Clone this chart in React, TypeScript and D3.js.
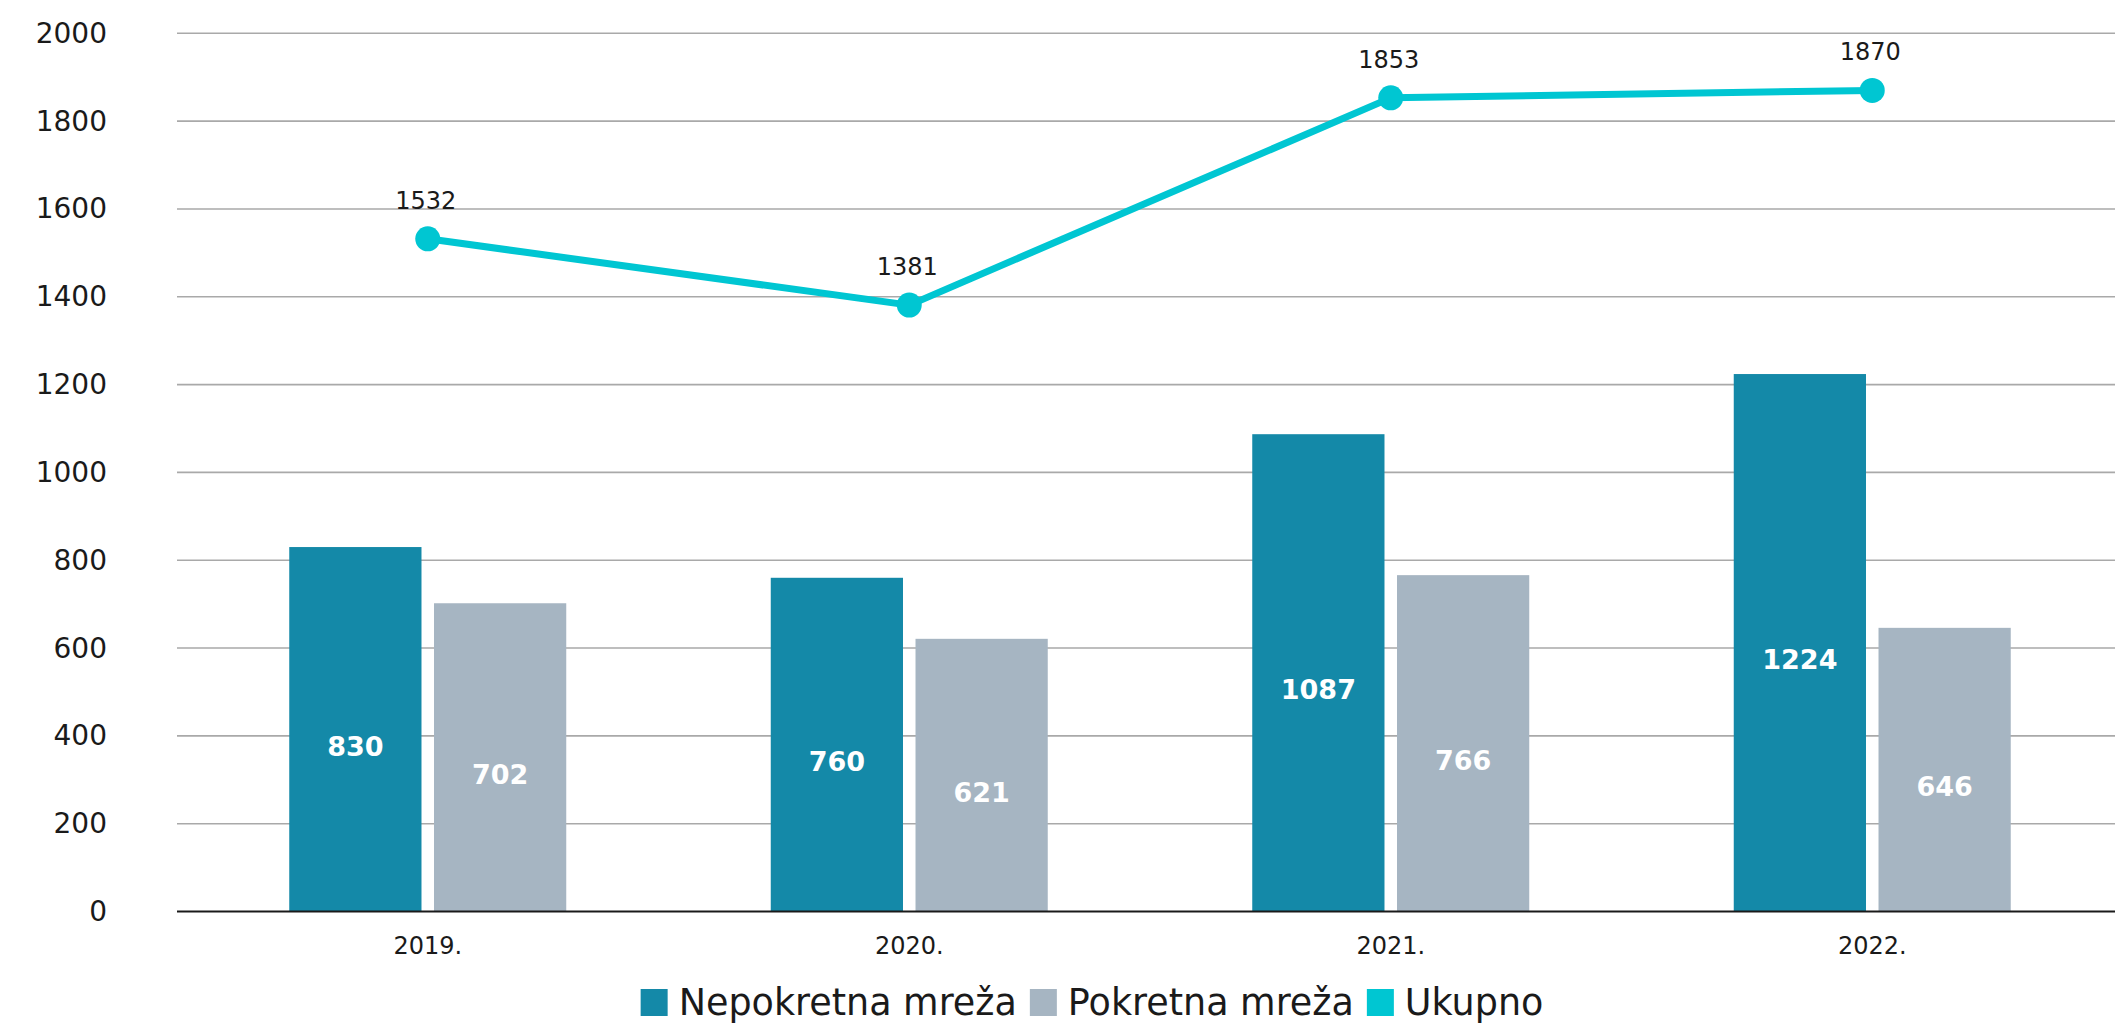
import React, { useEffect, useRef } from "react";
import * as d3 from "d3";

const years = ["2019.", "2020.", "2021.", "2022."];
const nepokretna = [830, 760, 1087, 1224];
const pokretna = [702, 621, 766, 646];
const ukupno = [1532, 1381, 1853, 1870];
const yTicks = [0, 200, 400, 600, 800, 1000, 1200, 1400, 1600, 1800, 2000];
const seriesNames = ["Nepokretna mreža", "Pokretna mreža", "Ukupno"];

const W = 2115;
const H = 1024;
const FONT = "'DejaVu Sans', sans-serif";
const C_NEP = "#1489A8";
const C_POK = "#A6B5C2";
const C_UK = "#00C6D2";

export default function App() {
  const ref = useRef<SVGSVGElement | null>(null);

  useEffect(() => {
    document.body.style.margin = "0";
    const svg = d3.select(ref.current);
    svg.selectAll("*").remove();

    const gridLeft = 177;
    const y = d3.scaleLinear().domain([0, 2000]).range([911.5, 33.3]);
    const x = d3.scaleBand<string>().domain(years).range([187, 2113]).paddingInner(0).paddingOuter(0);
    const groupW = 277;
    const inner = d3
      .scaleBand<string>()
      .domain(["nep", "pok"])
      .range([-groupW / 2, groupW / 2])
      .paddingInner(0.0865)
      .paddingOuter(0);
    const cx = (i: number) => (x(years[i]) as number) + x.bandwidth() / 2;

    // gridlines
    svg
      .append("g")
      .selectAll("line")
      .data(yTicks.filter((t) => t !== 0))
      .join("line")
      .attr("x1", gridLeft)
      .attr("x2", W)
      .attr("y1", (d) => y(d))
      .attr("y2", (d) => y(d))
      .attr("stroke", "#A9A9A9")
      .attr("stroke-width", 1.6);

    // y tick labels
    svg
      .append("g")
      .selectAll("text")
      .data(yTicks)
      .join("text")
      .attr("x", 107)
      .attr("y", (d) => y(d))
      .attr("text-anchor", "end")
      .attr("dominant-baseline", "central")
      .attr("font-family", FONT)
      .attr("font-size", 28)
      .attr("fill", "#1a1a1a")
      .text((d) => String(d));

    // bars
    const bars = svg.append("g");
    const barData: { key: string; i: number; v: number; color: string }[] = [];
    years.forEach((_, i) => {
      barData.push({ key: "nep", i, v: nepokretna[i], color: C_NEP });
      barData.push({ key: "pok", i, v: pokretna[i], color: C_POK });
    });
    bars
      .selectAll("rect")
      .data(barData)
      .join("rect")
      .attr("x", (d) => cx(d.i) + (inner(d.key) as number))
      .attr("width", inner.bandwidth())
      .attr("y", (d) => y(d.v))
      .attr("height", (d) => y(0) - y(d.v))
      .attr("fill", (d) => d.color);

    bars
      .selectAll("text")
      .data(barData)
      .join("text")
      .attr("x", (d) => cx(d.i) + (inner(d.key) as number) + inner.bandwidth() / 2)
      .attr("y", (d) => (y(d.v) + y(0)) / 2 + 17)
      .attr("text-anchor", "middle")
      .attr("dominant-baseline", "central")
      .attr("font-family", FONT)
      .attr("font-weight", "bold")
      .attr("font-size", 27)
      .attr("fill", "#ffffff")
      .text((d) => String(d.v));

    // x axis line
    svg
      .append("line")
      .attr("x1", gridLeft)
      .attr("x2", W)
      .attr("y1", y(0))
      .attr("y2", y(0))
      .attr("stroke", "#1a1a1a")
      .attr("stroke-width", 2.2);

    // x tick labels
    svg
      .append("g")
      .selectAll("text")
      .data(years)
      .join("text")
      .attr("x", (_, i) => cx(i))
      .attr("y", 954)
      .attr("text-anchor", "middle")
      .attr("font-family", FONT)
      .attr("font-size", 24)
      .attr("fill", "#1a1a1a")
      .text((d) => d);

    // line
    const line = d3
      .line<number>()
      .x((_, i) => cx(i))
      .y((d) => y(d));
    svg
      .append("path")
      .datum(ukupno)
      .attr("d", line)
      .attr("fill", "none")
      .attr("stroke", C_UK)
      .attr("stroke-width", 7)
      .attr("stroke-linejoin", "round");
    svg
      .append("g")
      .selectAll("circle")
      .data(ukupno)
      .join("circle")
      .attr("cx", (_, i) => cx(i))
      .attr("cy", (d) => y(d))
      .attr("r", 12.5)
      .attr("fill", C_UK);
    svg
      .append("g")
      .selectAll("text")
      .data(ukupno)
      .join("text")
      .attr("x", (_, i) => cx(i) - 2)
      .attr("y", (d) => y(d) - 30)
      .attr("text-anchor", "middle")
      .attr("font-family", FONT)
      .attr("font-size", 24)
      .attr("fill", "#1a1a1a")
      .text((d) => String(d));

    // legend
    const colors = [C_NEP, C_POK, C_UK];
    const lg = svg.append("g");
    const sq = 27;
    const gapText = 11;
    const gapItem = 13;
    const items = seriesNames.map((name, i) => {
      const g = lg.append("g");
      g.append("rect").attr("width", sq).attr("height", sq).attr("y", 989).attr("fill", colors[i]);
      const t = g
        .append("text")
        .attr("x", sq + gapText)
        .attr("y", 1014.5)
        .attr("font-family", FONT)
        .attr("font-size", 36.5)
        .attr("fill", "#1a1a1a")
        .text(name);
      const w = (t.node() as SVGTextElement).getComputedTextLength();
      return { g, w: sq + gapText + w };
    });
    const total = d3.sum(items, (d) => d.w) + gapItem * (items.length - 1);
    let pos = 1092 - total / 2;
    items.forEach((it) => {
      it.g.attr("transform", `translate(${pos},0)`);
      pos += it.w + gapItem;
    });
  }, []);

  return (
    <svg
      ref={ref}
      width={W}
      height={H}
      style={{ display: "block", position: "absolute", left: 0, top: 0, background: "#fff" }}
    />
  );
}
